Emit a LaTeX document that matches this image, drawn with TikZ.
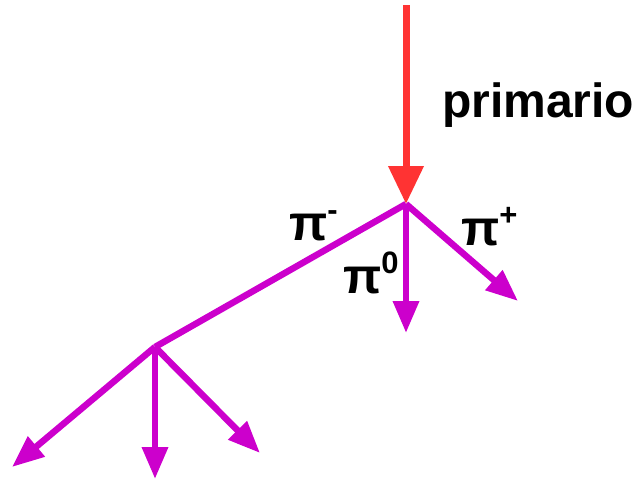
\documentclass[tikz,border=0pt]{standalone}
\usepackage{fontspec}
\setmainfont{Liberation Sans}
\usetikzlibrary{arrows.meta,positioning}
\definecolor{cmagenta}{RGB}{204,0,204}
\definecolor{cred}{RGB}{255,51,51}
\tikzset{
	primaryarrow/.style={draw=cred, line width=7pt, -{Triangle[length=38pt,width=34pt]}},
	pionarrow/.style={draw=cmagenta, line width=6.5pt, -{Triangle[length=32pt,width=25pt]}},
	pionline/.style={draw=cmagenta, line width=6.5pt},
	lbl/.style={font=\fontsize{48}{54}\selectfont\bfseries, inner sep=0pt},
	pilbl/.style={font=\fontsize{50}{56}\selectfont\bfseries, inner sep=0pt},
}
\newcommand{\pisup}[1]{\raisebox{20pt}{\fontsize{31}{33}\selectfont #1}}
\begin{document}
\begin{tikzpicture}[x=1pt, y=-1pt]
	\useasboundingbox (0,0) rectangle (639,482);

	\coordinate (top) at (406,5);
	\coordinate (v) at (406,204);
	\coordinate (pplus) at (518,301);
	\coordinate (pzero) at (406,333);
	\coordinate (b) at (155,347);
	\coordinate (bl) at (12,467);
	\coordinate (bd) at (155,479);
	\coordinate (br) at (260,453);

	\node[lbl, anchor=base west] (prim) at (442,117) {primario};
	\node[pilbl, anchor=base west] (piminus) at (289,240) {π\pisup{-}};
	\node[pilbl, anchor=base west] (pizero) at (343,293) {π\pisup{0}};
	\node[pilbl, anchor=base west] (piplus) at (461,245) {π\pisup{+}};

	\draw[primaryarrow] (top) -- (v);
	\draw[pionline] (v) -- (b);
	\draw[pionarrow] (v) -- (pplus);
	\draw[pionarrow] (v) -- (pzero);
	\draw[pionarrow] (b) -- (bl);
	\draw[pionarrow] (b) -- (bd);
	\draw[pionarrow] (b) -- (br);
\end{tikzpicture}
\end{document}
